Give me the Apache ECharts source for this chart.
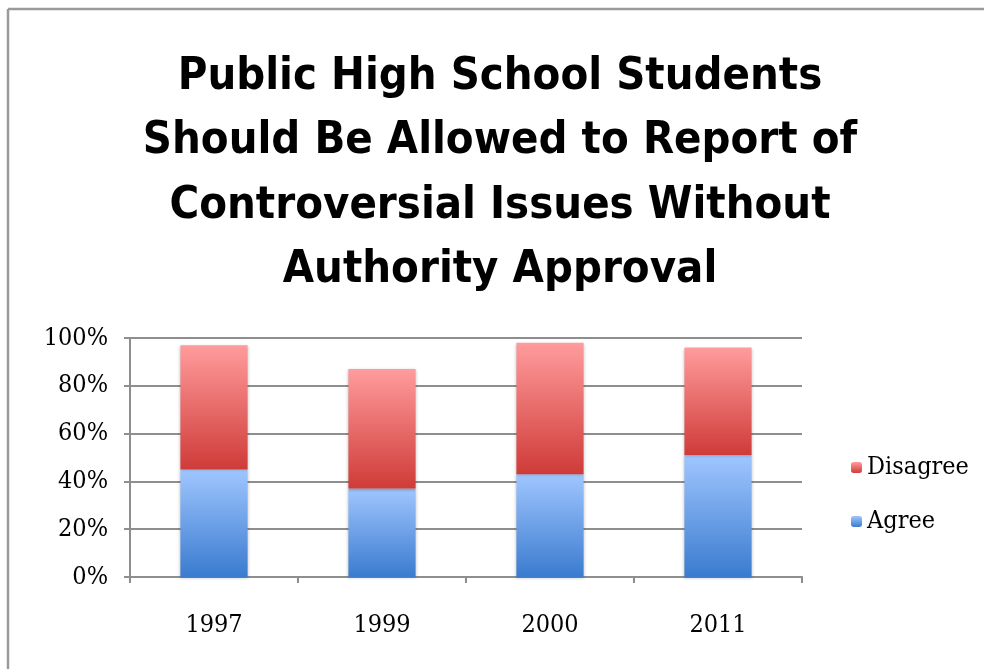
<!DOCTYPE html>
<html>
<head>
<meta charset="utf-8">
<script src="https://cdn.jsdelivr.net/npm/echarts@6/dist/echarts.min.js"></script>
<style>
  html, body { margin: 0; padding: 0; background: #fff; }
  #chart { width: 984px; height: 669px; }
</style>
</head>
<body>
<div id="chart"></div>
<script>
// Survey years and stacked shares (percent of respondents)
const years = ['1997', '1999', '2000', '2011'];
const agree = [45, 37, 43, 51];
const disagree = [52, 50, 55, 45];
const yTicks = [0, 20, 40, 60, 80, 100];
const titleLines = [
  'Public High School Students',
  'Should Be Allowed to Report of',
  'Controversial Issues Without',
  'Authority Approval'
];

const chart = echarts.init(document.getElementById('chart'), null, { renderer: 'canvas' });

function vGrad(top, bottom) {
  return new echarts.graphic.LinearGradient(0, 0, 0, 1, [
    { offset: 0, color: top },
    { offset: 1, color: bottom }
  ]);
}

const serif = '"DejaVu Serif Condensed", "Liberation Serif", serif';
const titleFont = '"DejaVu Sans Condensed", "Liberation Sans Narrow", "Noto Sans", sans-serif';
const gridColor = '#8e8e8e';

chart.setOption({
  backgroundColor: '#ffffff',
  animation: false,
  legend: {
    orient: 'vertical',
    left: 846,
    top: 450,
    itemWidth: 11,
    itemHeight: 11,
    itemGap: 29,
    data: ['Disagree', 'Agree'],
    textStyle: { fontFamily: serif, fontSize: 25, color: '#000', lineHeight: 25 }
  },
  grid: { left: 130, right: 182, top: 338, bottom: 92, containLabel: false },
  xAxis: {
    type: 'category',
    data: years,
    axisLine: { lineStyle: { color: gridColor, width: 2 } },
    axisTick: { show: true, length: 6, alignWithLabel: false, lineStyle: { color: gridColor, width: 2 } },
    axisLabel: { fontFamily: serif, fontSize: 25, color: '#000', margin: 36 }
  },
  yAxis: {
    type: 'value',
    min: 0,
    max: 100,
    interval: 20,
    axisLine: { show: true, lineStyle: { color: gridColor, width: 2 } },
    axisTick: { show: true, length: 6, lineStyle: { color: gridColor, width: 2 } },
    splitLine: { lineStyle: { color: gridColor, width: 2 } },
    axisLabel: {
      fontFamily: serif, fontSize: 25, color: '#000', margin: 22,
      formatter: v => yTicks.includes(v) ? v + '%' : ''
    }
  },
  series: [
    {
      name: 'Agree',
      type: 'bar',
      stack: 'total',
      barWidth: '40%',
      data: agree,
      itemStyle: {
        color: vGrad('#a0c6ff', '#3a7bcf'),
        shadowColor: 'rgba(0,0,0,0.25)',
        shadowBlur: 3,
        shadowOffsetY: 1
      }
    },
    {
      name: 'Disagree',
      type: 'bar',
      stack: 'total',
      barWidth: '40%',
      data: disagree,
      itemStyle: {
        color: vGrad('#ff9c9c', '#cf3b38'),
        shadowColor: 'rgba(0,0,0,0.25)',
        shadowBlur: 3,
        shadowOffsetY: 1
      }
    }
  ],
  graphic: [
    // four-line heading, centred over the figure
    {
      type: 'text',
      x: 500,
      y: 45,
      style: {
        text: titleLines.join('\n'),
        align: 'center',
        verticalAlign: 'top',
        fontFamily: titleFont,
        fontWeight: 'bold',
        fontSize: 45,
        lineHeight: 64.5,
        fill: '#000'
      }
    },
    // frame around the figure (top and left edges visible)
    { type: 'line', shape: { x1: 8, y1: 9, x2: 984, y2: 9 }, style: { stroke: '#9a9a9a', lineWidth: 2.5 } },
    { type: 'line', shape: { x1: 8, y1: 9, x2: 8, y2: 669 }, style: { stroke: '#9a9a9a', lineWidth: 2.5 } }
  ]
});
</script>
</body>
</html>
